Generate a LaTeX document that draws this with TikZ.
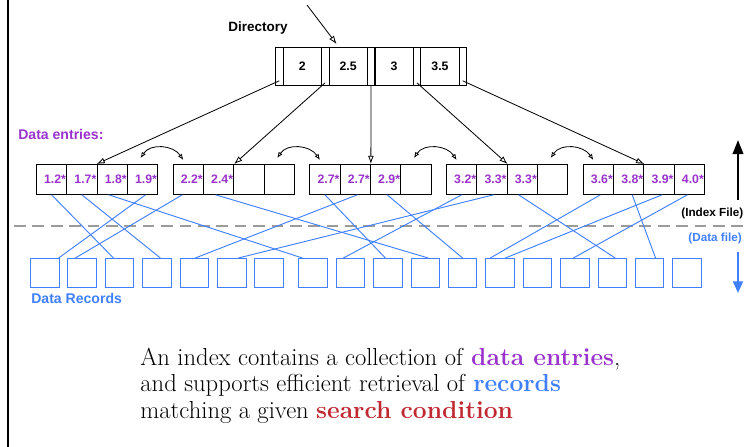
\documentclass[tikz,border=0pt]{standalone}
\usepackage{fontspec}
\newfontfamily\helv{Liberation Sans}
\usetikzlibrary{arrows.meta,calc}
\definecolor{entrypurple}{RGB}{153,51,204}
\definecolor{recblue}{RGB}{64,128,255}
\definecolor{condred}{RGB}{192,40,50}
\definecolor{sepgray}{RGB}{155,155,155}
\newcommand\pxu{0.03cm}
\newcommand\lblfont{\helv\bfseries\fontsize{10.5}{12}\selectfont}
\tikzset{
  dircell/.style={draw, inner sep=0pt, anchor=north west, minimum height=38*\pxu, font=\lblfont},
  ptrcell/.style={dircell, minimum width=7.6*\pxu},
  keycell/.style={dircell, minimum width=38.3*\pxu},
  entry/.style={draw, inner sep=0pt, anchor=north west, minimum width=30.33*\pxu,
    minimum height=30*\pxu, text=entrypurple, font=\lblfont},
  record/.style={draw=recblue, inner sep=0pt, anchor=north west, minimum size=28.5*\pxu},
  ptr/.style={-{Latex[open,length=7pt,width=5pt]}},
  swap/.style={{Latex[open,length=5pt,width=4pt]}-{Latex[open,length=5pt,width=4pt]}},
  link/.style={recblue, line width=0.8pt},
  sidelbl/.style={font=\helv\bfseries\fontsize{10}{12}\selectfont, anchor=west, inner sep=0pt},
}
\begin{document}
\begin{tikzpicture}[x=0.03cm, y=-0.03cm, line width=0.7pt]
\useasboundingbox (0,0) rectangle (744,447);
\clip (0,0) rectangle (744,447);
\draw [line width=1.3pt] (8,-2) -- (8,449);
% directory page
\node [font=\helv\bfseries\fontsize{11.5}{13}\selectfont] (dirlbl) at (258,28) {Directory};
\foreach \i in {0,...,4}
  \node [ptrcell] (p\i) at ({275+45.9*\i},47) {};
\foreach \t [count=\i] in {2,2.5,3,3.5}
  \node [keycell] (k\i) at ({282.7+45.9*(\i-1)},47) {\t};
\coordinate (dirin) at (307,5);
\draw [ptr] (dirin) -- ($(k2.north west)+(8,-3)$);
% leaf pages with data entries
\node [font=\helv\bfseries\fontsize{12}{14}\selectfont, text=entrypurple, anchor=west] (entlbl) at (14,134) {Data entries:};
\foreach \pg/\keys in {1/{1.2*,1.7*,1.8*,1.9*},2/{2.2*,2.4*,{},{}},3/{2.7*,2.7*,2.9*,{}},4/{3.2*,3.3*,3.3*,{}},5/{3.6*,3.8*,3.9*,4.0*}}
  \foreach \t [count=\c] in \keys
    \node [entry] (e\pg\c) at ({36+136.7*(\pg-1)+30.33*(\c-1)},164) {\kern6pt\t};
\draw [ptr] ($(p0.south)+(0,-5)$) -- (e13.north west);
\draw [ptr] ($(p1.south)+(0,-3)$) -- (e22.north east);
\draw [ptr] (p2.south) -- (e32.north east);
\draw [ptr] ($(p3.south)+(0,-3)$) -- (e42.north east);
\draw [ptr] ($(p4.south)+(0,-5)$) -- (e52.north east);
\foreach \a/\b in {1/2,2/3,3/4,4/5}
  \draw [swap] ($(e\a4.north)+(-2,-6)$) .. controls +(10,-15) and +(-10,-15) .. ($(e\b1.north)+(-5,-4)$);
% index file / data file
\draw [sepgray, line width=2pt, dash pattern=on 10pt off 5.7pt] (14,226) -- (746,226);
\node [sidelbl] (idxlbl) at (681,213) {(Index File)};
\node [sidelbl, text=recblue] (datlbl) at (688,238) {(Data file)};
\coordinate (up0) at (738,200);
\coordinate (up1) at (738,140);
\draw [line width=1.8pt, -{Triangle[length=12pt,width=9pt]}] (up0) -- (up1);
\coordinate (dn0) at (738,252);
\coordinate (dn1) at (738,293);
\draw [recblue, line width=1.8pt, -{Triangle[length=10pt,width=8.5pt]}] (dn0) -- (dn1);
% data records
\foreach \i in {1,...,18} {
  \pgfmathsetmacro\rx{\i<8 ? 30+37.4*(\i-1) : 298.3+37.4*(\i-8)}
  \node [record] (r\i) at (\rx,258) {};
}
\node [font=\helv\bfseries\fontsize{12}{14}\selectfont, text=recblue, anchor=west] (reclbl) at (27,298) {Data Records};
\foreach \a/\sa/\b/\sb in {e11/0/r3/-6, e12/0/r4/3.5, e13/-3.5/r8/-10.6, e14/3/r1/14,
    e21/-6/r2/-6.7, e22/-3/r11/3, e31/0/r10/-2.4, e32/2/r5/1, e33/1.5/r12/0,
    e41/0/r9/-7, e42/1.5/r6/6.7, e43/-3.7/r16/3, e51/2/r13/-9.6, e52/3.5/r17/6,
    e53/3/r13/5.4, e54/-2/r15/-1.4}
  \draw [link] ($(\a.south)+(\sa,0)$) -- ($(\b.north)+(\sb,0)$);
% caption
\node [anchor=base west, align=left, inner sep=0pt, font=\fontsize{21}{22.6}\selectfont] (note) at (140,418)
  {An index contains a collection of \textbf{\color{entrypurple}data entries},\\
   and supports efficient retrieval of \textbf{\color{recblue}records}\\
   matching a given \textbf{\color{condred}search condition}};
\end{tikzpicture}
\end{document}
